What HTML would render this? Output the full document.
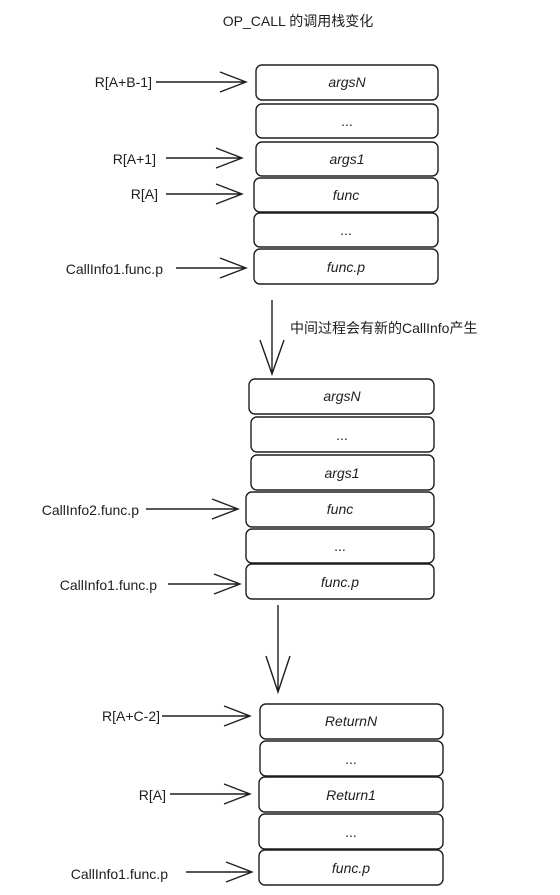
<!DOCTYPE html>
<html><head><meta charset="utf-8"><style>
html,body{margin:0;padding:0;background:#fff;}
svg{display:block;}
text{font-family:"Liberation Sans","Noto Sans CJK SC",sans-serif;font-size:14px;fill:#1e1e1e;}
.b{fill:#fff;stroke:#1e1e1e;stroke-width:1.4;}
.l{stroke:#1e1e1e;stroke-width:1.4;fill:none;}
</style></head><body>
<svg width="560" height="895" viewBox="0 0 560 895">
<text x="298" y="26" text-anchor="middle">OP_CALL 的调用栈变化</text>

<!-- stack 1 -->
<g>
<rect class="b" x="256" y="65" width="182" height="35" rx="6"/>
<rect class="b" x="256" y="104" width="182" height="34" rx="6"/>
<rect class="b" x="256" y="142" width="182" height="34" rx="6"/>
<rect class="b" x="254" y="178" width="184" height="34" rx="6"/>
<rect class="b" x="254" y="213" width="184" height="34" rx="6"/>
<rect class="b" x="254" y="249" width="184" height="35" rx="6"/>
<text x="347" y="87" text-anchor="middle" font-style="italic">argsN</text>
<text x="347" y="126" text-anchor="middle">...</text>
<text x="347" y="164" text-anchor="middle" font-style="italic">args1</text>
<text x="346" y="200" text-anchor="middle" font-style="italic">func</text>
<text x="346" y="235" text-anchor="middle">...</text>
<text x="346" y="272" text-anchor="middle" font-style="italic">func.p</text>
<text x="152" y="87" text-anchor="end">R[A+B-1]</text>
<path class="l" d="M156 82 H246 M220 72 L246 82 L220 92"/>
<text x="156" y="164" text-anchor="end">R[A+1]</text>
<path class="l" d="M166 158 H242 M216 148 L242 158 L216 168"/>
<text x="158" y="199" text-anchor="end">R[A]</text>
<path class="l" d="M166 194 H242 M216 184 L242 194 L216 204"/>
<text x="163" y="274" text-anchor="end">CallInfo1.func.p</text>
<path class="l" d="M176 268 H246 M220 258 L246 268 L220 278"/>
</g>

<!-- arrow down 1 -->
<path class="l" d="M272 300 V372 M260 340 L272 374 L284 340"/>
<text x="290" y="333">中间过程会有新的CallInfo产生</text>

<!-- stack 2 -->
<g>
<rect class="b" x="249" y="379" width="185" height="35" rx="6"/>
<rect class="b" x="251" y="417" width="183" height="35" rx="6"/>
<rect class="b" x="251" y="455" width="183" height="35" rx="6"/>
<rect class="b" x="246" y="492" width="188" height="35" rx="6"/>
<rect class="b" x="246" y="529" width="188" height="34" rx="6"/>
<rect class="b" x="246" y="564" width="188" height="35" rx="6"/>
<text x="342" y="401" text-anchor="middle" font-style="italic">argsN</text>
<text x="342" y="440" text-anchor="middle">...</text>
<text x="342" y="478" text-anchor="middle" font-style="italic">args1</text>
<text x="340" y="514" text-anchor="middle" font-style="italic">func</text>
<text x="340" y="551" text-anchor="middle">...</text>
<text x="340" y="587" text-anchor="middle" font-style="italic">func.p</text>
<text x="139" y="515" text-anchor="end">CallInfo2.func.p</text>
<path class="l" d="M146 509 H238 M212 499 L238 509 L212 519"/>
<text x="157" y="590" text-anchor="end">CallInfo1.func.p</text>
<path class="l" d="M168 584 H240 M214 574 L240 584 L214 594"/>
</g>

<!-- arrow down 2 -->
<path class="l" d="M278 605 V690 M266 656 L278 692 L290 656"/>

<!-- stack 3 -->
<g>
<rect class="b" x="260" y="704" width="183" height="35" rx="6"/>
<rect class="b" x="260" y="741" width="183" height="35" rx="6"/>
<rect class="b" x="259" y="777" width="184" height="35" rx="6"/>
<rect class="b" x="259" y="814" width="184" height="35" rx="6"/>
<rect class="b" x="259" y="850" width="184" height="35" rx="6"/>
<text x="351" y="726" text-anchor="middle" font-style="italic">ReturnN</text>
<text x="351" y="764" text-anchor="middle">...</text>
<text x="351" y="800" text-anchor="middle" font-style="italic">Return1</text>
<text x="351" y="837" text-anchor="middle">...</text>
<text x="351" y="873" text-anchor="middle" font-style="italic">func.p</text>
<text x="160" y="721" text-anchor="end">R[A+C-2]</text>
<path class="l" d="M162 716 H250 M224 706 L250 716 L224 726"/>
<text x="166" y="800" text-anchor="end">R[A]</text>
<path class="l" d="M170 794 H250 M224 784 L250 794 L224 804"/>
<text x="168" y="879" text-anchor="end">CallInfo1.func.p</text>
<path class="l" d="M186 872 H252 M226 862 L252 872 L226 882"/>
</g>
</svg>
</body></html>
